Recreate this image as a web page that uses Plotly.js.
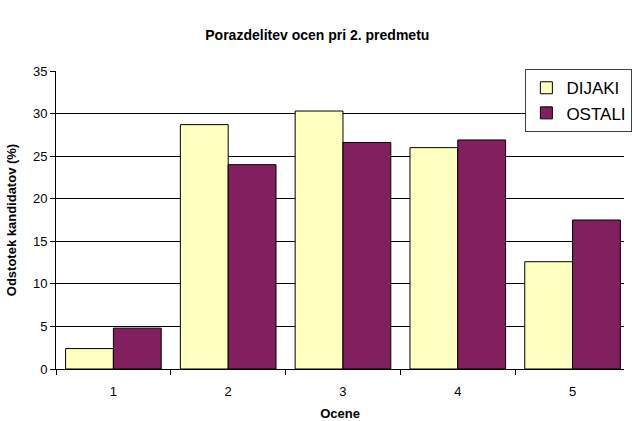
<!DOCTYPE html>
<html>
<head>
<meta charset="utf-8">
<script src="https://cdn.plot.ly/plotly-3.0.1.min.js"></script>
<style>
html, body { margin: 0; padding: 0; background: #ffffff; }
#chart { width: 633px; height: 421px; }
</style>
</head>
<body>
<div id="chart"></div>
<script>
const categories = ["1", "2", "3", "4", "5"];
const dijaki = [2.4, 28.7, 30.3, 26.0, 12.6];
const ostali = [4.8, 24.0, 26.6, 26.9, 17.5];
const seriesNames = ["DIJAKI", "OSTALI"];
const yTicks = [0, 5, 10, 15, 20, 25, 30, 35];

const FONT = "Liberation Sans, Arial, sans-serif";

const traces = [
  {
    type: "bar", name: seriesNames[0], x: categories, y: dijaki,
    marker: { color: "#FFFFC0", line: { color: "#000000", width: 1 } }
  },
  {
    type: "bar", name: seriesNames[1], x: categories, y: ostali,
    marker: { color: "#821F5F", line: { color: "#000000", width: 1 } }
  }
];

const layout = {
  width: 633, height: 421,
  margin: { l: 56, r: 1, t: 71, b: 52, pad: 0 },
  paper_bgcolor: "#ffffff", plot_bgcolor: "#ffffff",
  font: { family: FONT, size: 13, color: "#000000" },
  title: {
    text: "<b>Porazdelitev ocen pri 2. predmetu</b>",
    font: { family: FONT, size: 14, color: "#000000" },
    x: (321 - 56) / 576, xref: "paper", xanchor: "center",
    y: 22, yref: "container", yanchor: "middle"
  },
  barmode: "group", bargap: 0.167, bargroupgap: 0,
  showlegend: true,
  legend: {
    x: (532 - 56) / 576, xanchor: "left",
    y: 1.006, yanchor: "top",
    bgcolor: "#ffffff", bordercolor: "#404040", borderwidth: 1,
    font: { family: FONT, size: 17, color: "#000000" },
    itemwidth: 30, tracegroupgap: 0
  },
  xaxis: {
    type: "category",
    range: [-0.5, 4.448],
    tickson: "boundaries",
    ticks: "outside", ticklen: 5, tickcolor: "#000000", tickwidth: 1,
    ticklabelstandoff: 10,
    showline: true, linecolor: "#000000", linewidth: 1,
    showgrid: false, zeroline: false,
    tickfont: { family: FONT, size: 13, color: "#000000" },
    title: { text: "<b>Ocene</b>", font: { family: FONT, size: 13, color: "#000000" }, standoff: 18 },
    automargin: false
  },
  yaxis: {
    range: [0, 35],
    tickvals: yTicks,
    ticks: "outside", ticklen: 5, tickcolor: "#000000", tickwidth: 1,
    showline: true, linecolor: "#000000", linewidth: 1,
    showgrid: true, gridcolor: "#000000", gridwidth: 1,
    zeroline: false,
    tickfont: { family: FONT, size: 13, color: "#000000" },
    title: { text: "<b>Odstotek kandidatov (%)</b>", font: { family: FONT, size: 13, color: "#000000" }, standoff: 13 },
    automargin: false
  }
};

Plotly.newPlot("chart", traces, layout, { displayModeBar: false, staticPlot: true });
</script>
</body>
</html>
